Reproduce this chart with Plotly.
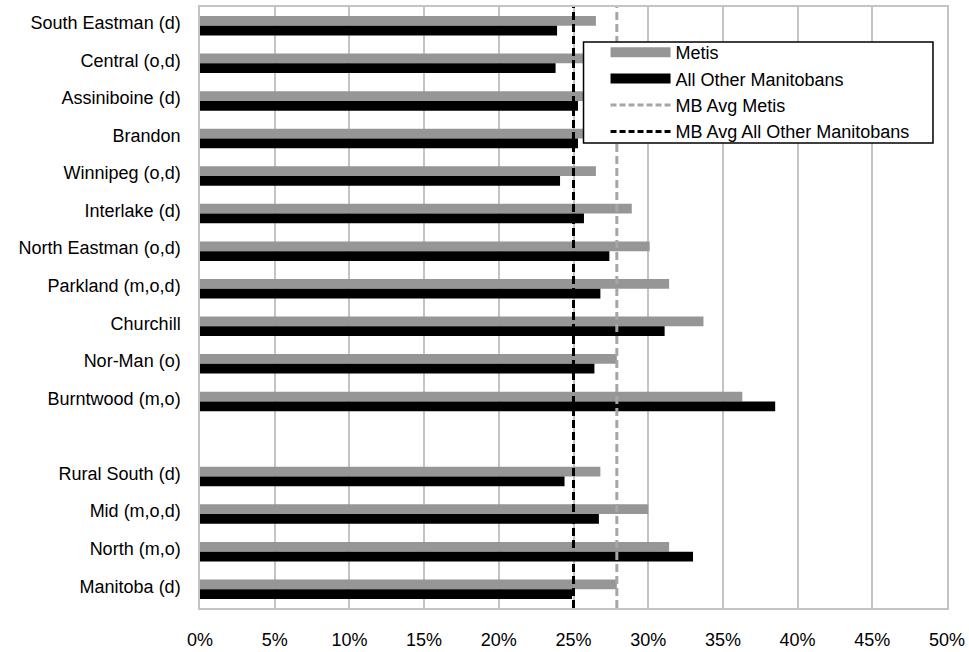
import plotly.graph_objects as go

categories = ["South Eastman (d)", "Central (o,d)", "Assiniboine (d)", "Brandon",
              "Winnipeg (o,d)", "Interlake (d)", "North Eastman (o,d)", "Parkland (m,o,d)",
              "Churchill", "Nor-Man (o)", "Burntwood (m,o)", " ",
              "Rural South (d)", "Mid (m,o,d)", "North (m,o)", "Manitoba (d)"]
metis = [26.5, 27.5, 26.0, 27.0, 26.5, 28.9, 30.1, 31.4, 33.7, 27.9, 36.3, None,
         26.8, 30.0, 31.4, 27.9]
others = [23.9, 23.8, 25.3, 25.3, 24.1, 25.7, 27.4, 26.8, 31.1, 26.4, 38.5, None,
          24.4, 26.7, 33.0, 24.9]
mb_avg_metis = 27.9
mb_avg_others = 25.0
x_ticks = [0, 5, 10, 15, 20, 25, 30, 35, 40, 45, 50]
x_tick_labels = [f"{v}%" for v in x_ticks]

GRAY = "#969696"
FONT = "Liberation Sans, Arial, sans-serif"

fig = go.Figure()
fig.add_trace(go.Bar(y=categories, x=metis, orientation="h", name="Metis",
                     marker=dict(color=GRAY, line=dict(width=0)), showlegend=False))
fig.add_trace(go.Bar(y=categories, x=others, orientation="h", name="All Other Manitobans",
                     marker=dict(color="#000000", line=dict(width=0)), showlegend=False))
fig.add_trace(go.Scatter(x=[mb_avg_metis, mb_avg_metis], y=[0, 1], yaxis="y2", mode="lines",
                         name="MB Avg Metis", showlegend=False,
                         line=dict(color="#a6a6a6", width=3, dash="8px,4px")))
fig.add_trace(go.Scatter(x=[mb_avg_others, mb_avg_others], y=[0, 1], yaxis="y2", mode="lines",
                         name="MB Avg All Other Manitobans", showlegend=False,
                         line=dict(color="#000000", width=3, dash="8px,4px")))

# legend entries (wide rectangle symbols like the original)
fig.add_trace(go.Scatter(x=[None], y=[None], yaxis="y2", mode="lines", name="Metis",
                         line=dict(color=GRAY, width=10)))
fig.add_trace(go.Scatter(x=[None], y=[None], yaxis="y2", mode="lines",
                         name="All Other Manitobans", line=dict(color="#000000", width=10)))
fig.add_trace(go.Scatter(x=[None], y=[None], yaxis="y2", mode="lines", name="MB Avg Metis",
                         line=dict(color="#a6a6a6", width=3, dash="6px,3px")))
fig.add_trace(go.Scatter(x=[None], y=[None], yaxis="y2", mode="lines",
                         name="MB Avg All Other Manitobans",
                         line=dict(color="#000000", width=3, dash="6px,3px")))

# legend box
fig.add_shape(type="rect", xref="paper", yref="paper",
              x0=(583 - 200) / 746, x1=(932 - 200) / 746,
              y0=(608 - 143) / 601, y1=(608 - 42) / 601,
              fillcolor="white", line=dict(color="#000000", width=1.5), layer="above")

fig.update_layout(
    width=969, height=652,
    margin=dict(l=200, r=22, t=7, b=44, autoexpand=False),
    paper_bgcolor="white", plot_bgcolor="white",
    barmode="group", bargap=0.48, bargroupgap=0,
    font=dict(family=FONT, size=18, color="#000000"),
    xaxis=dict(range=[0, 50], tickvals=x_ticks, ticktext=x_tick_labels,
               showgrid=True, gridcolor="#c4c4c4", gridwidth=1.5,
               showline=True, linecolor="#c4c4c4", linewidth=1.5, mirror=True,
               zeroline=False, ticks="", ticklabelstandoff=15, automargin=False,
               tickfont=dict(size=18)),
    yaxis=dict(categoryorder="array", categoryarray=categories, autorange="reversed",
               type="category", showgrid=False, showline=True, linecolor="#c4c4c4",
               linewidth=1.5, mirror=True, ticks="", ticklabelstandoff=14,
               ticklabelshift=3, automargin=False, tickfont=dict(size=18)),
    yaxis2=dict(overlaying="y", range=[0, 1], visible=False, fixedrange=True),
    legend=dict(x=(605 - 200) / 746, y=(608 - 34) / 601, xanchor="left", yanchor="top",
                bgcolor="rgba(0,0,0,0)", borderwidth=0,
                font=dict(size=18), tracegroupgap=0, itemwidth=60),
    showlegend=True,
)

fig.write_html("out.html", config={"displayModeBar": False},
               post_script="document.body.style.margin='0';document.body.style.overflow='hidden';")
